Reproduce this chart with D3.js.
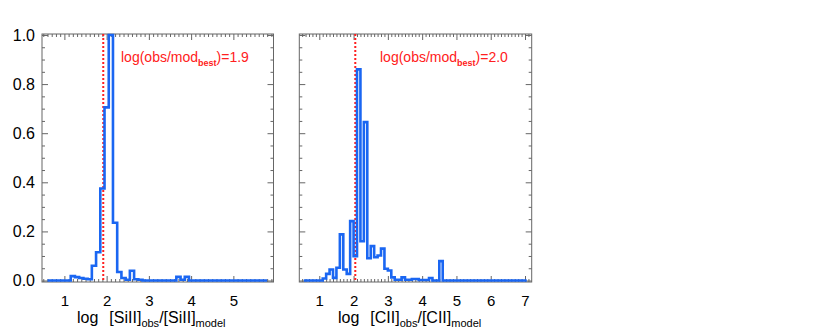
<!DOCTYPE html>
<html>
<head>
<meta charset="utf-8">
<script src="https://cdn.jsdelivr.net/npm/d3@7"></script>
<style>
  body { margin: 0; background: #fff; }
  text { font-family: "Liberation Sans", Arial, sans-serif; }
</style>
</head>
<body>
<script>
// tick labels
const yTicks = [0, 0.2, 0.4, 0.6, 0.8, 1.0];
const xTicksSi = [1, 2, 3, 4, 5];
const xTicksC = [1, 2, 3, 4, 5, 6, 7];

// histogram bin centres (0.1 wide) and normalised counts
const siBins = d3.range(53).map(i => +(0.6 + i * 0.1).toFixed(2));
const siValues = [
  0, 0, 0, 0, 0, 0,
  0.018, 0.014, 0.01, 0.007, 0.005, 0.06, 0.115, 0.375, 0.705, 1.0,
  0.235, 0.035, 0.01, 0.003, 0.04, 0.005, 0.003,
  0, 0, 0, 0, 0, 0, 0, 0,
  0.015, 0.003, 0.015,
  0, 0, 0, 0, 0, 0, 0, 0, 0, 0, 0, 0, 0, 0, 0, 0, 0, 0, 0
];

const cBins = d3.range(66).map(i => +(0.55 + i * 0.1).toFixed(2));
const cValues = [
  0, 0, 0, 0, 0, 0,
  0.008, 0.027, 0.045, 0.011, 0.052, 0.188, 0.045, 0.027, 0.242, 0.099,
  0.86, 0.16, 0.645, 0.091, 0.14, 0.095, 0.102, 0.13, 0.048, 0.041,
  0.013, 0.003, 0.003, 0.013, 0.003, 0.003, 0.006, 0.006, 0.002, 0.002,
  0.002, 0.01, 0, 0, 0.079,
  0, 0, 0, 0, 0, 0, 0, 0, 0, 0, 0, 0, 0, 0, 0, 0, 0, 0, 0, 0, 0, 0, 0, 0, 0
];

// best-fit offsets (dotted lines) and their labels
const bestFit = [1.92, 2.05];
const bestLabel = ['1.9', '2.0'];
const species = ['SiII', 'CII'];

let svg = d3.select('body').append('svg')
  .attr('width', 830)
  .attr('height', 332);

let plotTop = 34, plotBottom = 282;

let y = d3.scaleLinear().domain([-0.006, 1.004]).range([plotBottom, plotTop]);

let panels = [
  { left: 42, right: 273.5, domain: [0.47, 5.95], ticks: xTicksSi, bins: siBins, values: siValues, yLabels: true, textX: 121, titleX: 77 },
  { left: 299.3, right: 531.7, domain: [0.417, 7.195], ticks: xTicksC, bins: cBins, values: cValues, yLabels: false, textX: 380, titleX: 338 }
];

const axisColor = '#666';

function minorRange(d0, d1, step, majors) {
  let out = [];
  for (let k = Math.ceil(d0 / step - 1e-9); k * step <= d1 + 1e-9; k++) {
    let v = +(k * step).toFixed(3);
    if (!majors.some(m => Math.abs(m - v) < 1e-6)) out.push(v);
  }
  return out;
}

function styleAxis(g) {
  g.select('.domain').remove();
  g.selectAll('.tick line').attr('stroke', axisColor);
  g.selectAll('text').attr('fill', '#000');
}

panels.forEach((p, i) => {
  let x = d3.scaleLinear().domain(p.domain).range([p.left, p.right]);
  let xMinor = minorRange(p.domain[0], p.domain[1], 0.1, p.ticks);
  let yMinor = minorRange(0, 1.0, 0.05, yTicks);

  let g = svg.append('g');

  // bottom axis with labels
  g.append('g')
    .attr('transform', `translate(0,${plotBottom})`)
    .call(d3.axisBottom(x).tickValues(p.ticks).tickFormat(d3.format('d')).tickSize(-6).tickPadding(13))
    .call(styleAxis)
    .selectAll('text').attr('font-size', 15);
  g.append('g')
    .attr('transform', `translate(0,${plotBottom})`)
    .call(d3.axisBottom(x).tickValues(xMinor).tickFormat('').tickSize(-3))
    .call(styleAxis);

  // top axis (ticks only)
  g.append('g')
    .attr('transform', `translate(0,${plotTop})`)
    .call(d3.axisTop(x).tickValues(p.ticks).tickFormat('').tickSize(-6))
    .call(styleAxis);
  g.append('g')
    .attr('transform', `translate(0,${plotTop})`)
    .call(d3.axisTop(x).tickValues(xMinor).tickFormat('').tickSize(-3))
    .call(styleAxis);

  // left axis
  g.append('g')
    .attr('transform', `translate(${p.left},0)`)
    .call(d3.axisLeft(y).tickValues(yTicks)
      .tickFormat(p.yLabels ? d3.format('.1f') : '')
      .tickSize(-6).tickPadding(7))
    .call(styleAxis)
    .selectAll('text').attr('font-size', 16);
  g.append('g')
    .attr('transform', `translate(${p.left},0)`)
    .call(d3.axisLeft(y).tickValues(yMinor).tickFormat('').tickSize(-3))
    .call(styleAxis);

  // right axis
  g.append('g')
    .attr('transform', `translate(${p.right},0)`)
    .call(d3.axisRight(y).tickValues(yTicks).tickFormat('').tickSize(-6))
    .call(styleAxis);
  g.append('g')
    .attr('transform', `translate(${p.right},0)`)
    .call(d3.axisRight(y).tickValues(yMinor).tickFormat('').tickSize(-3))
    .call(styleAxis);

  // frame
  g.append('rect')
    .attr('x', p.left)
    .attr('y', plotTop)
    .attr('width', p.right - p.left)
    .attr('height', plotBottom - plotTop)
    .attr('fill', 'none')
    .attr('stroke', axisColor)
    .attr('stroke-width', 1);

  // best-fit dotted line
  g.append('line')
    .attr('x1', x(bestFit[i])).attr('x2', x(bestFit[i]))
    .attr('y1', plotTop).attr('y2', plotBottom)
    .attr('stroke', '#ff2020')
    .attr('stroke-width', 2)
    .attr('stroke-dasharray', '2,2');

  // histogram (step line, steps half way between bin centres)
  let hist = d3.line()
    .x(d => x(d[0]))
    .y(d => y(d[1]))
    .curve(d3.curveStep);

  g.append('path')
    .datum(d3.zip(p.bins, p.values))
    .attr('fill', 'none')
    .attr('stroke', '#1a66f2')
    .attr('stroke-width', 2.6)
    .attr('stroke-linejoin', 'miter')
    .attr('d', hist);

  // annotation
  let ann = g.append('text')
    .attr('x', p.textX)
    .attr('y', 62)
    .attr('fill', '#ff2020')
    .attr('font-size', 14);
  ann.append('tspan').text('log(obs/mod');
  ann.append('tspan').attr('font-size', 9).attr('font-weight', 'bold').attr('dy', 4).text('best');
  ann.append('tspan').attr('dy', -4).text(')=' + bestLabel[i]);

  // x title
  let t = g.append('text')
    .attr('x', p.titleX)
    .attr('y', 323)
    .attr('font-size', 16)
    .attr('fill', '#000');
  t.append('tspan').text('log');
  t.append('tspan').attr('dx', 11).text('[' + species[i] + ']');
  t.append('tspan').attr('font-size', 11).attr('dy', 4).text('obs');
  t.append('tspan').attr('dy', -4).text('/[' + species[i] + ']');
  t.append('tspan').attr('font-size', 11).attr('dy', 4).text('model');
});
</script>
</body>
</html>
